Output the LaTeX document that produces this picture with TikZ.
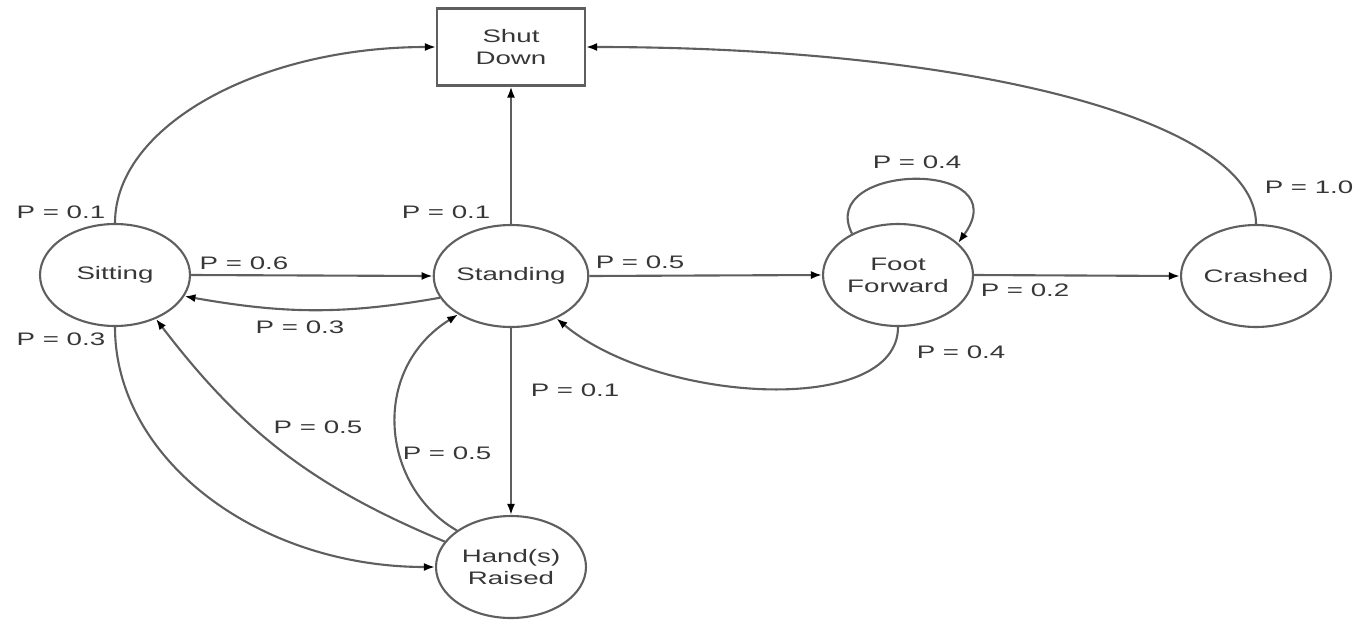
\documentclass[tikz,border=0pt]{standalone}
\usepackage{fontspec}
\setmainfont{Liberation Sans}[FakeStretch=1.53]
\usetikzlibrary{positioning, shapes, arrows.meta}

\definecolor{linegray}{RGB}{95,95,95}
\definecolor{textgray}{RGB}{55,55,55}

\tikzset{
  statenode/.style={ellipse, draw=linegray, line width=1.2pt, minimum width=3cm, minimum height=2.04cm, inner sep=0pt, align=center, text=textgray},
  shutbox/.style={rectangle, draw=linegray, line width=1.2pt, minimum width=2.96cm, minimum height=1.54cm, align=center, text=textgray},
  prob/.style={text=textgray, inner sep=0pt},
  trans/.style={draw=linegray, line width=1.2pt, -{Latex[length=2.2mm, width=1.6mm, color=black]}}
}

\begin{document}
\begin{tikzpicture}[x=0.02cm, y=-0.02cm, every node/.style={font=\fontsize{10.3}{12.4}\selectfont}]
    \useasboundingbox (0,0) rectangle (1358,619);

    \node[shutbox] (shut) at (511, 47) {Shut\\Down};
    \node[statenode] (sit) at (115, 275) {Sitting};
    \node[statenode] (stand) at (511, 276) {Standing};
    \node[statenode] (ff) at (898, 275) {Foot\\Forward};
    \node[statenode] (crash) at (1256, 276) {Crashed};
    \node[statenode] (hand) at (511, 567) {Hand(s)\\Raised};

    % transitions
    \path (sit.north) edge[trans, out=90, in=180, out distance=1.94cm, in distance=3.54cm] (shut.west);
    \path (stand.north) edge[trans] (shut.south);
    \path (crash.north) edge[trans, out=90, in=0, out distance=2.1cm, in distance=7.6cm] (shut.east);
    \path (sit.east) edge[trans] (stand.west);
    \path (stand.197) edge[trans, out=190, in=-10] (sit.343);
    \path (stand.east) edge[trans] (ff.west);
    \path (ff.138) edge[trans, out=117, in=54, out distance=1.6cm, in distance=2.1cm] (ff.28);
    \path (ff.east) edge[trans] (crash.west);
    \path (ff.south) edge[trans, out=270, in=-40, out distance=1.8cm, in distance=2.66cm] (stand.317);
    \path (stand.south) edge[trans] (hand.north);
    \path (hand.159) edge[trans, bend left=15] (sit.313);
    \path (hand.146) edge[trans, out=150, in=212, out distance=1.75cm, in distance=2.1cm] (stand.216);
    \path (sit.south) edge[trans, out=270, in=180, out distance=2.65cm, in distance=3.53cm] (hand.west);

    % probabilities
    \node[prob] (p-sit-shut) at (61, 212) {P = 0.1};
    \node[prob] (p-stand-shut) at (446, 212) {P = 0.1};
    \node[prob] (p-crash-shut) at (1309, 187) {P = 1.0};
    \node[prob] (p-sit-stand) at (244, 263) {P = 0.6};
    \node[prob] (p-stand-sit) at (300, 327) {P = 0.3};
    \node[prob] (p-stand-ff) at (640, 262) {P = 0.5};
    \node[prob] (p-ff-ff) at (917, 162) {P = 0.4};
    \node[prob] (p-ff-crash) at (1025, 290) {P = 0.2};
    \node[prob] (p-ff-stand) at (961, 352) {P = 0.4};
    \node[prob] (p-stand-hand) at (575, 390) {P = 0.1};
    \node[prob] (p-hand-sit) at (318, 427) {P = 0.5};
    \node[prob] (p-hand-stand) at (447, 453) {P = 0.5};
    \node[prob] (p-sit-hand) at (61, 339) {P = 0.3};
\end{tikzpicture}
\end{document}
